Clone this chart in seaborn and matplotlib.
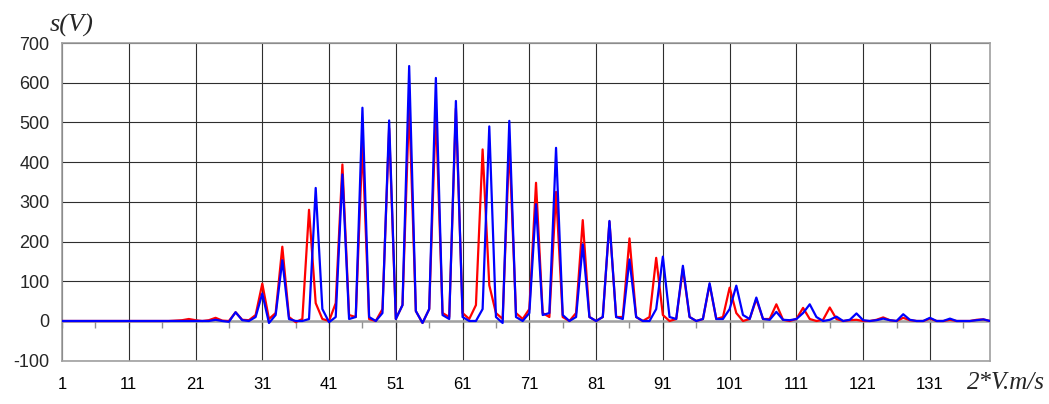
import numpy as np
import pandas as pd
import matplotlib
matplotlib.use('Agg')
import matplotlib.pyplot as plt
import seaborn as sns

# category index 1..140 (x axis)
categories = list(range(1, 141))

# red series, 10 values per row (1-10, 11-20, ...)
red_values = [
    0, 0, 0, 0, 0, 0, 0, 0, 0, 0,
    0, 0, 0, 0, 0, 0, 0, 1, 2, 5,
    2, 0, 2, 8, 1, 0, 22, 3, 2, 15,
    94, 5, 20, 187, 10, -3, 5, 280, 45, 5,
    0, 45, 394, 15, 10, 447, 5, 0, 30, 485,
    5, 40, 547, 25, -5, 30, 531, 20, 10, 535,
    20, 5, 40, 432, 90, 20, 5, 447, 20, 5,
    30, 348, 20, 10, 325, 10, 0, 20, 254, 10,
    0, 10, 250, 10, 10, 208, 10, 0, 10, 159,
    15, 0, 5, 132, 10, 0, 5, 92, 5, 10,
    84, 20, 0, 5, 55, 5, 5, 42, 3, 0,
    5, 33, 5, 0, 3, 34, 5, 0, 2, 3,
    0, 0, 3, 9, 2, 0, 8, 2, 0, 0,
    6, 0, 0, 3, 0, 0, 0, 3, 4, 0,
]

# blue series
blue_values = [
    0, 0, 0, 0, 0, 0, 0, 0, 0, 0,
    0, 0, 0, 0, 0, 0, 0, 0, 0, 0,
    0, 0, 0, 3, 0, -2, 22, 2, 0, 10,
    69, -5, 15, 153, 5, 0, 0, 5, 335, 30,
    -3, 10, 369, 5, 10, 537, 10, 0, 20, 505,
    5, 40, 642, 25, -5, 30, 612, 15, 5, 554,
    10, 0, 0, 30, 490, 10, -5, 504, 10, 0,
    20, 294, 15, 20, 436, 15, 0, 10, 193, 10,
    0, 10, 252, 10, 5, 155, 10, 0, 0, 30,
    162, 10, 5, 139, 10, 0, 5, 95, 5, 5,
    30, 89, 15, 5, 59, 5, 3, 23, 3, 2,
    5, 20, 42, 10, 0, 3, 11, 0, 3, 19,
    2, 0, 2, 6, 2, 0, 17, 3, 0, 0,
    8, 0, 0, 6, 0, 0, 0, 2, 4, 0,
]

x_tick_labels = list(range(1, 141, 10))
y_ticks = list(range(-100, 701, 100))

df = pd.DataFrame({
    'x': categories * 2,
    's': red_values + blue_values,
    'series': ['red'] * len(categories) + ['blue'] * len(categories),
})

sns.set_style('white')
plt.rcParams['font.family'] = ['Liberation Sans', 'DejaVu Sans']

fig = plt.figure(figsize=(10.49, 4.04), dpi=100)
ax = fig.add_axes([62 / 1049, 1 - 360.7 / 404, (990 - 62) / 1049, (360.7 - 43) / 404])

sns.lineplot(data=df, x='x', y='s', hue='series', hue_order=['red', 'blue'],
             palette={'red': '#ff0000', 'blue': '#0000ff'}, linewidth=1.6,
             legend=False, ax=ax, zorder=3)

ax.set_xlim(1, 140)
ax.set_ylim(-100, 700)
ax.set_xticks(x_tick_labels)
ax.set_xticklabels([str(v) for v in x_tick_labels], fontsize=12)
ax.set_yticks(y_ticks)
ax.set_yticklabels([str(v) for v in y_ticks], fontsize=13)
ax.set_xlabel('')
ax.set_ylabel('')

ax.grid(True, color='#2e2e2e', linewidth=0.8)
ax.set_axisbelow(True)
ax.tick_params(axis='x', length=0, pad=12, colors='#000000')
ax.tick_params(axis='y', length=5, width=1, direction='out', color='#909090', pad=4)

for side in ['left', 'bottom', 'right', 'top']:
    ax.spines[side].set_visible(True)
    ax.spines[side].set_color('#a0a0a0')
    ax.spines[side].set_linewidth(1.2)

# the category axis crosses at 0, with its small tick marks every 5 categories
ax.axhline(0, color='#a0a0a0', linewidth=1.8, zorder=2)
zero_axis = ax.secondary_xaxis(100 / 800)
zero_axis.set_xticks(list(range(1, 141, 5)))
zero_axis.set_xticklabels([])
zero_axis.tick_params(length=5, width=1, direction='out', color='#909090')
zero_axis.spines['bottom'].set_visible(False)

fig.text(50 / 1049, 1 - 25 / 404, 's(V)', fontsize=19, style='italic',
         family=['Liberation Serif', 'DejaVu Serif'], ha='left', va='center')
fig.text(1045 / 1049, 1 - 383 / 404, '2*V.m/s', fontsize=18, style='italic',
         family=['Liberation Serif', 'DejaVu Serif'], ha='right', va='center')

fig.savefig('out.png', dpi=100, facecolor='white')
plt.close(fig)
